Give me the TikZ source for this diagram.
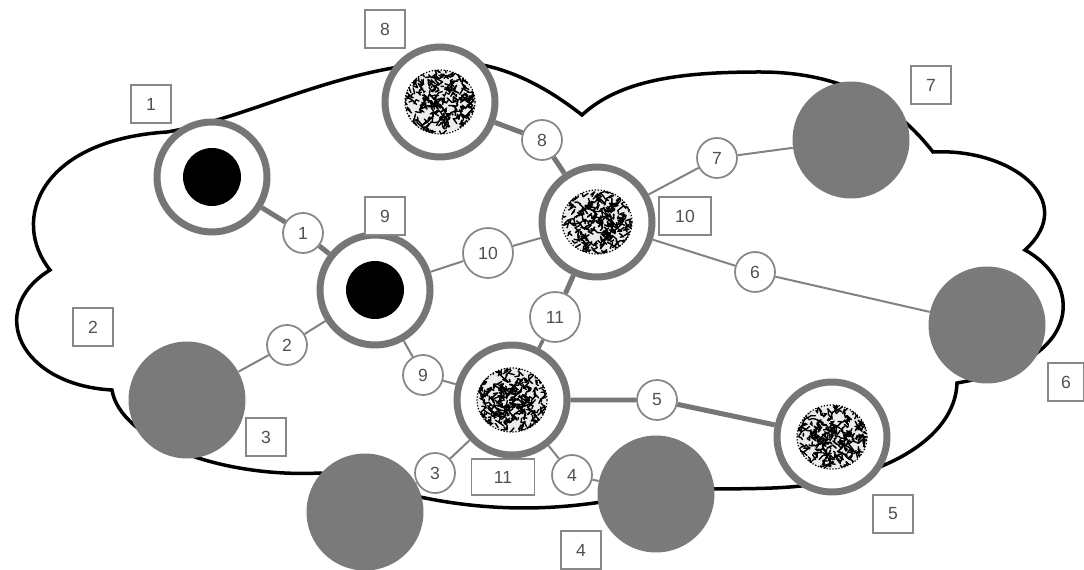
\documentclass[tikz,border=0pt]{standalone}
\usepackage{fontspec}
\setmainfont{Liberation Sans}
\usetikzlibrary{shapes.geometric}
\definecolor{ringc}{RGB}{118,118,118}
\definecolor{diskc}{RGB}{122,122,122}
\definecolor{tagc}{RGB}{135,135,135}
\definecolor{linec}{RGB}{130,130,130}
\definecolor{txtc}{RGB}{80,80,80}
\tikzset{
  ring/.style={circle, draw=ringc, line width=0.14cm, fill=white, minimum size=2.2cm, inner sep=0pt},
  blob/.style={circle, fill=diskc, minimum size=2.34cm, inner sep=0pt},
  core/.style={circle, fill=black, minimum size=1.16cm, inner sep=0pt},
  tag/.style={circle, draw=tagc, line width=0.035cm, fill=white, minimum size=0.8cm, inner sep=0pt, text=txtc, font=\fontsize{10}{12}\selectfont},
  bigtag/.style={tag, minimum size=1cm},
  lbl/.style={rectangle, draw=tagc, line width=0.035cm, fill=white, minimum width=0.8cm, minimum height=0.76cm, inner sep=0pt, text=txtc, font=\fontsize{10}{12}\selectfont},
  thinlink/.style={draw=linec, line width=0.04cm},
  midlink/.style={draw=ringc, line width=0.07cm},
  thicklink/.style={draw=ringc, line width=0.1cm},
  cloudline/.style={draw=black, line width=0.07cm, fill=white},
  mottle/.style={ellipse, minimum width=1.4cm, minimum height=1.28cm, inner sep=0pt,
    draw=black, densely dotted, line width=0.7pt, fill=gray!15,
    path picture={
      \foreach \i in {1,...,230}{
        \pgfmathsetmacro\ax{rand*0.68}\pgfmathsetmacro\ay{rand*0.62}
        \pgfmathsetmacro\bx{rand*0.1}\pgfmathsetmacro\by{rand*0.1}
        \pgfmathsetmacro\cx{rand*0.1}\pgfmathsetmacro\cy{rand*0.1}
        \draw[black, solid, line width=0.8pt, line cap=round, line join=round]
          ([shift={(\ax cm,\ay cm)}]path picture bounding box.center) -- ++(\bx cm,\by cm) -- ++(\cx cm,\cy cm);
      }
      \foreach \i in {1,...,60}{
        \pgfmathsetmacro\ax{rand*0.35}\pgfmathsetmacro\ay{rand*0.32}
        \pgfmathsetmacro\bx{rand*0.1}\pgfmathsetmacro\by{rand*0.1}
        \draw[black, solid, line width=0.9pt, line cap=round]
          ([shift={(\ax cm,\ay cm)}]path picture bounding box.center) -- ++(\bx cm,\by cm);
      }}}
}
\begin{document}
\begin{tikzpicture}[x=0.02cm, y=-0.02cm]
\pgfmathsetseed{17}
\useasboundingbox (0,0) rectangle (1084,570);
\fill[white] (0,0) rectangle (1084,570);

% cloud outline
\path[cloudline] (50,270) .. controls (10,220) and (40,140) .. (167,132)
  .. controls (250,118) and (330,70) .. (440,62)
  .. controls (500,58) and (550,90) .. (582,115)
  .. controls (620,80) and (680,72) .. (760,72)
  .. controls (850,72) and (900,110) .. (933,152)
  .. controls (1010,148) and (1080,200) .. (1025,250)
  .. controls (1080,280) and (1090,360) .. (957,383)
  .. controls (955,440) and (880,480) .. (790,487)
  .. controls (750,490) and (700,488) .. (660,490)
  .. controls (600,505) and (520,518) .. (420,497)
  .. controls (380,488) and (350,478) .. (320,473)
  .. controls (220,478) and (120,440) .. (112,390)
  .. controls (20,385) and (-15,310) .. (50,270) -- cycle;

% grey disks
\node[blob] (d7) at (851,140) {};
\node[blob] (d6) at (987,325) {};
\node[blob] (d3) at (187,400) {};
\node[blob] (db) at (365,512) {};
\node[blob] (d4) at (656,494) {};

% rings
\node[ring] (r1) at (212,177) {};
\node[ring] (r9) at (375,290) {};
\node[ring] (r8) at (440,102) {};
\node[ring] (r10) at (597,222) {};
\node[ring] (r11) at (512,400) {};
\node[ring] (r5) at (832,437) {};

% cores
\node[core] (k1) at (r1) {};
\node[core] (k9) at (r9) {};
\node[mottle] (m8) at (r8) {};
\node[mottle] (m10) at (r10) {};
\node[mottle] (m11) at (r11) {};
\node[mottle] (m5) at (r5) {};

% link tags
\node[tag] (c1) at (303,233) {1};
\node[tag] (c2) at (287,345) {2};
\node[tag] (c3) at (435,473) {3};
\node[tag] (c4) at (572,475) {4};
\node[tag] (c5) at (657,400) {5};
\node[tag] (c6) at (755,272) {6};
\node[tag] (c7) at (717,158) {7};
\node[tag] (c8) at (542,140) {8};
\node[tag] (c9) at (423,375) {9};
\node[bigtag] (c10) at (488,253) {10};
\node[bigtag] (c11) at (555,317) {11};

% connectors
\path[thicklink] (r1) -- (c1) -- (r9);
\path[thinlink] (r9) -- (c2) -- (d3);
\path[thinlink] (r11) -- (c3) -- (db);
\path[thinlink] (r11) -- (c4) -- (d4);
\path[thicklink] (r11) -- (c5) -- (r5);
\path[thinlink] (r10) -- (c6) -- (d6);
\path[thinlink] (r10) -- (c7) -- (d7);
\path[thicklink] (r8) -- (c8) -- (r10);
\path[thinlink] (r9) -- (c9) -- (r11);
\path[thinlink] (r9) -- (c10) -- (r10);
\path[midlink] (r11) -- (c11);
\path[thicklink] (c11) -- (r10);

% element labels
\node[lbl] (b1) at (151,104) {1};
\node[lbl] (b2) at (93,327) {2};
\node[lbl] (b3) at (266,437) {3};
\node[lbl] (b4) at (581,550) {4};
\node[lbl] (b5) at (893,514) {5};
\node[lbl, minimum width=0.72cm] (b6) at (1066,382) {6};
\node[lbl] (b7) at (931,85) {7};
\node[lbl] (b8) at (385,29) {8};
\node[lbl] (b9) at (385,216) {9};
\node[lbl, minimum width=1.04cm] (b10) at (685,216) {10};
\node[lbl, minimum width=1.26cm, minimum height=0.72cm] (b11) at (503,477) {11};
\end{tikzpicture}
\end{document}
